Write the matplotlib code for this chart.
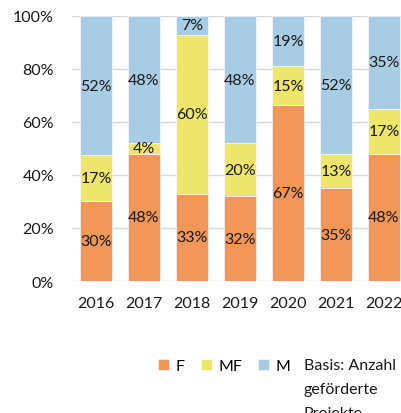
import matplotlib
matplotlib.use("Agg")
import matplotlib.pyplot as plt
import numpy as np

years = ["2016", "2017", "2018", "2019", "2020", "2021", "2022"]
f_vals = [30, 48, 33, 32, 67, 35, 48]
mf_vals = [17, 4, 60, 20, 15, 13, 17]
m_vals = [52, 48, 7, 48, 19, 52, 35]
series_names = ["F", "MF", "M"]
colors = ["#F29657", "#EEE66A", "#A7CDE4"]
note_text = "Basis: Anzahl\ngeförderte\nProjekte"

plt.rcParams['font.family'] = ['Lato', 'DejaVu Sans']
FS = 11.5

fig = plt.figure(figsize=(4.02, 4.14), dpi=100)
W, H = 402, 414
ax = fig.add_axes([72 / W, 1 - 282 / H, 336 / W, 265 / H])

data = np.array([f_vals, mf_vals, m_vals], dtype=float)
totals = data.sum(axis=0)
shares = data / totals * 100
x = np.arange(len(years))
bottom = np.zeros(len(years))
handles = []
for i, name in enumerate(series_names):
    b = ax.bar(x, shares[i], 0.67, bottom=bottom, color=colors[i],
               edgecolor="white", linewidth=0.4, label=name, zorder=2)
    handles.append(b)
    for j in range(len(years)):
        ax.text(x[j], bottom[j] + shares[i][j] / 2, f"{int(data[i][j])}%",
                ha="center", va="center", fontsize=FS, color="#1a1a1a", zorder=3)
    bottom += shares[i]

ax.set_xlim(-0.5, len(years) - 0.5)
ax.set_ylim(0, 100)
ax.set_yticks(range(0, 101, 20))
ax.set_yticklabels([f"{v}%" for v in range(0, 101, 20)], fontsize=FS, color="#1a1a1a")
ax.set_xticks(x)
ax.set_xticklabels(years, fontsize=FS, color="#1a1a1a")
ax.tick_params(axis="both", length=0)
ax.tick_params(axis="y", pad=13)
ax.tick_params(axis="x", pad=11)
ax.grid(axis="y", color="#d9d9d9", linewidth=1, zorder=0)
for s in ax.spines.values():
    s.set_visible(False)

fig.legend(handles=handles, labels=series_names, loc="center left",
           bbox_to_anchor=(158 / W, 1 - 367 / H), ncol=3, frameon=False,
           fontsize=FS, handlelength=0.7, handleheight=0.7,
           handletextpad=0.4, columnspacing=1.0, borderaxespad=0, borderpad=0)
fig.text(304 / W, 1 - 359 / H, note_text, ha="left", va="top",
         fontsize=FS, color="#1a1a1a", linespacing=1.9)

fig.savefig("out.png", dpi=100)
